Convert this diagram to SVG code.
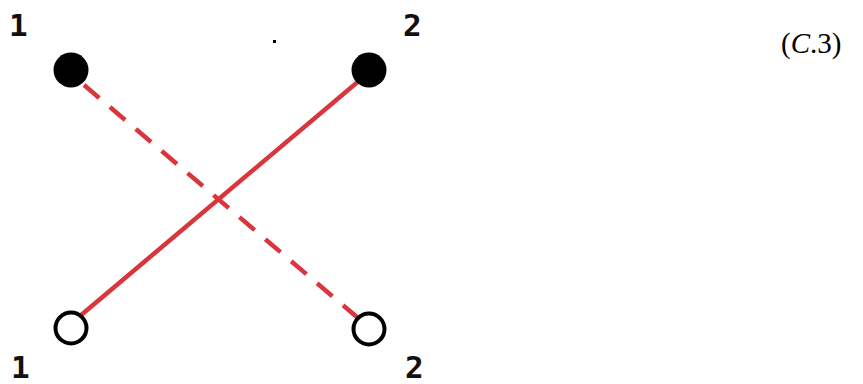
<svg xmlns="http://www.w3.org/2000/svg" width="863" height="384" viewBox="0 0 863 384">
<style>
.lbl{font-family:"DejaVu Sans Mono","DejaVu Sans",monospace;font-weight:bold;font-size:31px;fill:#111}
.edge{stroke:#d9353c;stroke-width:4.5;fill:none;stroke-linecap:butt}
.eq{font-family:"Liberation Serif",serif;font-size:29px;fill:#000}
</style>
<rect width="863" height="384" fill="#fff"/>
<g id="connectors">
<line class="edge" x1="80" y1="316" x2="360" y2="80"/>
<line class="edge" x1="84" y1="85" x2="358" y2="318" stroke-dasharray="20 14"/>
</g>
<g id="n1top"><circle cx="71" cy="70" r="17.5" fill="#000"/><text class="lbl" x="9" y="36">1</text></g>
<g id="n2top"><circle cx="369" cy="70" r="17.5" fill="#000"/><text class="lbl" x="403" y="36">2</text></g>
<g id="n1bot"><circle cx="71" cy="328" r="15.5" fill="#fff" stroke="#000" stroke-width="4"/><text class="lbl" x="11" y="378">1</text></g>
<g id="n2bot"><circle cx="369" cy="329" r="15.5" fill="#fff" stroke="#000" stroke-width="4"/><text class="lbl" x="405" y="378">2</text></g>
<rect x="273" y="40" width="3" height="3" fill="#000"/>
<text class="eq" x="781" y="53">(<tspan font-style="italic">C</tspan>.3)</text>
</svg>
